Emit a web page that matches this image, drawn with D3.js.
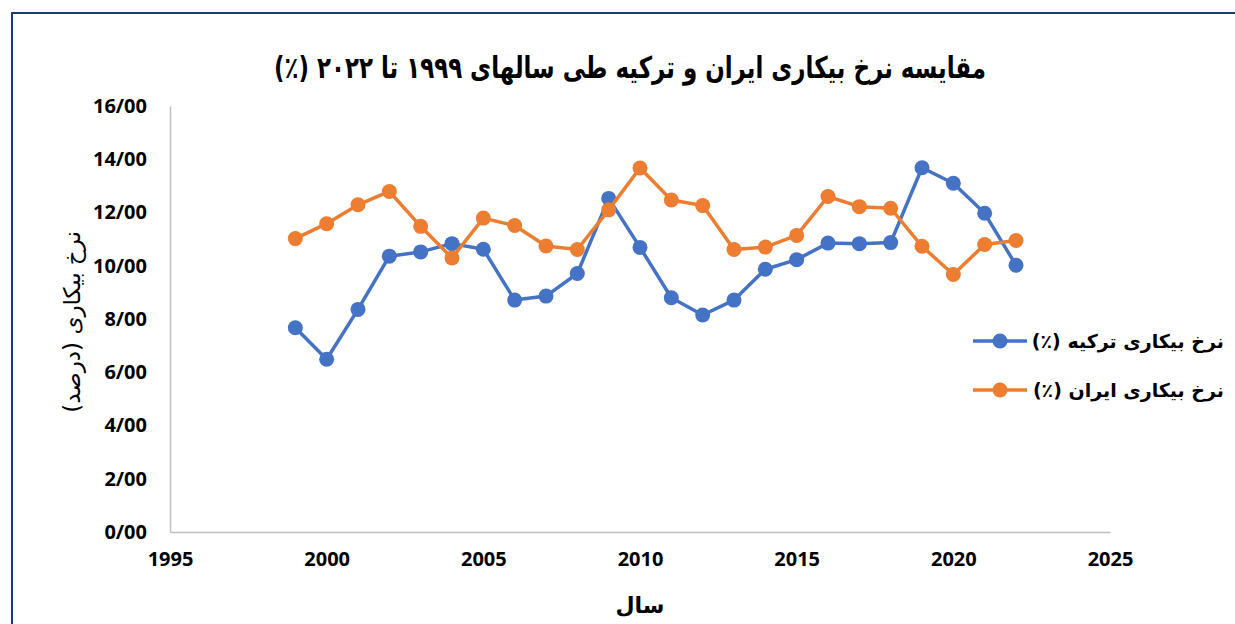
<!DOCTYPE html>
<html>
<head>
<meta charset="utf-8">
<script src="https://cdn.jsdelivr.net/npm/d3@7"></script>
<style>
  body { margin: 0; background: #fff; }
  svg { display: block; }
</style>
</head>
<body>
<svg id="chart"></svg>
<script>
const width = 1235;
const height = 624;

// data
const years = [1999, 2000, 2001, 2002, 2003, 2004, 2005, 2006, 2007, 2008, 2009, 2010,
               2011, 2012, 2013, 2014, 2015, 2016, 2017, 2018, 2019, 2020, 2021, 2022];
const turkey = [7.67, 6.49, 8.36, 10.36, 10.52, 10.83, 10.62, 8.71, 8.86, 9.71, 12.53, 10.69,
                8.80, 8.15, 8.71, 9.87, 10.23, 10.85, 10.83, 10.87, 13.68, 13.10, 11.97, 10.02];
const iran = [11.02, 11.58, 12.29, 12.79, 11.48, 10.29, 11.79, 11.51, 10.74, 10.61, 12.10, 13.67,
              12.47, 12.26, 10.61, 10.70, 11.14, 12.60, 12.22, 12.16, 10.73, 9.67, 10.80, 10.95];
const xTicks = [1995, 2000, 2005, 2010, 2015, 2020, 2025];
const yTicks = [0, 2, 4, 6, 8, 10, 12, 14, 16];

const seriesNames = ['نرخ بیکاری ترکیه (٪)', 'نرخ بیکاری ایران (٪)'];
const colors = ['#4472C4', '#ED7D31'];

const title = 'مقایسه نرخ بیکاری ایران و ترکیه طی سالهای ۱۹۹۹ تا ۲۰۲۲ (٪)';
const yTitle = 'نرخ بیکاری (درصد)';
const xTitle = 'سال';

const latin = '"Noto Sans", "Open Sans", sans-serif';
const persian = '"DejaVu Sans", sans-serif';

const svg = d3.select('#chart').attr('width', width).attr('height', height);

// outer border (runs off right and bottom like the screenshot)
svg.append('rect')
    .attr('x', 12).attr('y', 13)
    .attr('width', width + 20).attr('height', height + 20)
    .style('fill', 'none')
    .style('stroke', '#1b3a7a')
    .style('stroke-width', 2);

const x = d3.scaleLinear().domain([1995, 2025]).range([170, 1110]);
const y = d3.scaleLinear().domain([0, 16]).range([532, 106]);

// axes
const yAxis = svg.append('g')
    .attr('transform', `translate(${x(1995)},0)`)
    .call(d3.axisLeft(y).tickValues(yTicks).tickSize(0).tickPadding(23)
        .tickFormat(d => d + '/00'));
yAxis.select('.domain').style('stroke', '#bfbfbf').style('stroke-width', 1.5);
yAxis.selectAll('text')
    .style('font-family', latin).style('font-weight', 'bold')
    .style('font-size', '20px').style('fill', '#000');

const xAxis = svg.append('g')
    .attr('transform', `translate(0,${y(0)})`)
    .call(d3.axisBottom(x).tickValues(xTicks).tickSize(0).tickPadding(20)
        .tickFormat(d3.format('d')));
xAxis.select('.domain').style('stroke', '#bfbfbf').style('stroke-width', 1.5);
xAxis.selectAll('text')
    .style('font-family', latin).style('font-weight', 'bold')
    .style('font-size', '20px').style('fill', '#000');

// lines + markers
const line = d3.line()
    .x((d, i) => x(years[i]))
    .y(d => y(d));

[turkey, iran].forEach((vals, k) => {
    svg.append('path')
        .datum(vals)
        .attr('d', line)
        .style('fill', 'none')
        .style('stroke', colors[k])
        .style('stroke-width', 3.5)
        .style('stroke-linejoin', 'round');

    svg.append('g').selectAll('circle')
        .data(vals)
        .enter().append('circle')
        .attr('cx', (d, i) => x(years[i]))
        .attr('cy', d => y(d))
        .attr('r', 7.5)
        .style('fill', colors[k]);
});

// title
svg.append('text')
    .attr('x', 630).attr('y', 78)
    .attr('text-anchor', 'middle')
    .attr('direction', 'rtl')
    .attr('textLength', 712)
    .attr('lengthAdjust', 'spacingAndGlyphs')
    .style('font-family', persian).style('font-weight', 'bold')
    .style('font-size', '30px')
    .text(title);

// axis titles
svg.append('text')
    .attr('transform', 'translate(80,322) rotate(-90)')
    .attr('text-anchor', 'middle')
    .attr('direction', 'rtl')
    .style('font-family', persian)
    .style('font-size', '23px')
    .text(yTitle);

svg.append('text')
    .attr('x', 640).attr('y', 613)
    .attr('text-anchor', 'middle')
    .attr('direction', 'rtl')
    .style('font-family', persian).style('font-weight', 'bold')
    .style('font-size', '22px')
    .text(xTitle);

// legend
const legend = svg.append('g');
seriesNames.forEach((name, k) => {
    const ly = 341 + k * 49;
    legend.append('line')
        .attr('x1', 973).attr('x2', 1027)
        .attr('y1', ly).attr('y2', ly)
        .style('stroke', colors[k]).style('stroke-width', 3.5);
    legend.append('circle')
        .attr('cx', 1000).attr('cy', ly).attr('r', 7.5)
        .style('fill', colors[k]);
    legend.append('text')
        .attr('x', 1224).attr('y', ly + 7)
        .attr('text-anchor', 'start')
        .attr('direction', 'rtl')
        .style('font-family', persian).style('font-weight', 'bold')
        .style('font-size', '19px')
        .text(name);
});
</script>
</body>
</html>
